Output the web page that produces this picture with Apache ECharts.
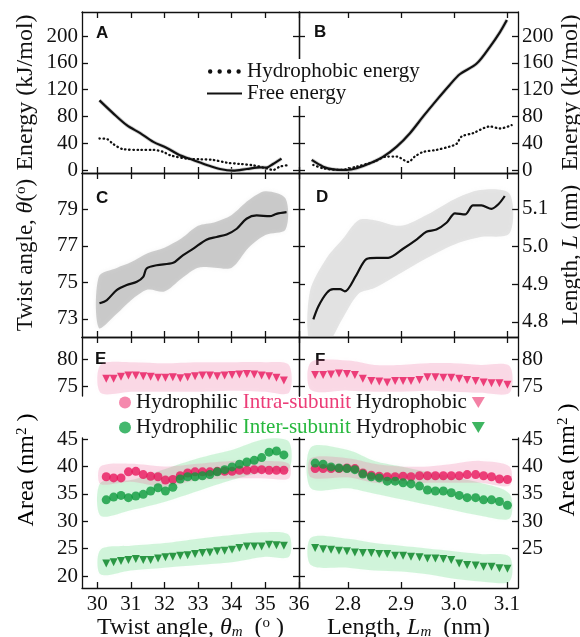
<!DOCTYPE html>
<html>
<head>
<meta charset="utf-8">
<script src="https://cdn.jsdelivr.net/npm/echarts@6/dist/echarts.min.js"></script>
<style>
html, body { margin: 0; padding: 0; background: #fff; }
#chart { width: 580px; height: 637px; }
</style>
</head>
<body>
<div id="chart"></div>
<script>
// ---------- Panel A: energy profiles vs twist angle ----------
const angFreeA = [30.07, 30.47, 30.88, 31.28, 31.67, 32.07, 32.46, 32.85, 33.26, 33.65, 34.04, 34.45, 34.84, 35.03, 35.23, 35.48];
const freeA    = [104, 85, 67, 55, 42, 33, 22, 15, 7.5, 1.5, -1, 1.5, 4, 3.5, 9, 17];
const angHydA  = [30.07, 30.3, 30.47, 30.78, 31.28, 31.67, 31.97, 32.17, 32.66, 33.06, 33.45, 33.85, 34.24, 34.64, 35.03, 35.23, 35.43, 35.63];
const hydA     = [47, 46, 39, 31, 30, 30, 27, 22, 17, 16, 15, 11, 9, 7, 2.5, 0, 5, 7];

// ---------- Panel B: energy profiles vs length ----------
const lenFreeB = [2.7315, 2.753, 2.772, 2.7975, 2.816, 2.8415, 2.8667, 2.892, 2.917, 2.942, 2.967, 2.992, 3.011, 3.043, 3.068, 3.087, 3.10];
const freeB    = [15, 5, 1, 0, 2.5, 10, 20, 35, 55, 80, 104, 127, 143, 159, 184, 206, 224];
const lenHydB  = [2.7345, 2.753, 2.785, 2.816, 2.848, 2.873, 2.892, 2.914, 2.926, 2.942, 2.967, 2.992, 3.005, 3.0145, 3.036, 3.068, 3.087, 3.109];
const hydB     = [7.5, 2.5, 0, 5, 12, 20, 20, 12, 20, 27, 30, 35, 39, 50, 55, 65, 62, 67];

// ---------- Panel C: twist angle theta vs theta_m ----------
const angC      = [30.07, 30.29, 30.58, 30.88, 31.18, 31.37, 31.47, 31.77, 32.26, 32.51, 32.86, 33.25, 33.55, 33.85, 34.15, 34.44, 34.74, 35.13, 35.33, 35.63];
const twistC    = [73.85, 74.03, 74.57, 74.85, 75.03, 75.3, 75.76, 75.94, 76.07, 76.43, 76.85, 77.34, 77.49, 77.63, 77.94, 78.49, 78.67, 78.63, 78.76, 78.85];
const angCloudC = [30.05, 30.6, 31.0, 31.5, 32.0, 32.5, 33.0, 33.5, 34.0, 34.5, 35.0, 35.6];
const loCloudC  = [72.5, 73.3, 74.0, 74.6, 74.5, 75.2, 75.8, 75.8, 75.8, 76.9, 77.6, 77.9];
const hiCloudC  = [75.3, 75.8, 76.1, 76.6, 76.9, 77.4, 78.1, 78.3, 78.7, 79.5, 80.0, 79.6];

// ---------- Panel D: length L vs L_m ----------
const lenD      = [2.7346, 2.744, 2.760, 2.772, 2.785, 2.794, 2.816, 2.835, 2.854, 2.876, 2.904, 2.930, 2.948, 2.967, 2.986, 3.002, 3.021, 3.036, 3.052, 3.071, 3.084, 3.096];
const lengthD   = [4.807, 4.841, 4.877, 4.887, 4.887, 4.881, 4.925, 4.967, 4.970, 4.970, 4.994, 5.019, 5.039, 5.045, 5.063, 5.088, 5.085, 5.109, 5.109, 5.100, 5.112, 5.134];
const lenCloudD = [2.728, 2.76, 2.79, 2.82, 2.85, 2.90, 2.95, 3.00, 3.05, 3.105];
const loCloudD  = [4.74, 4.74, 4.81, 4.875, 4.89, 4.93, 4.97, 5.005, 5.025, 5.035];
const hiCloudD  = [4.88, 4.97, 5.02, 5.07, 5.07, 5.055, 5.085, 5.125, 5.15, 5.14];

// ---------- Panels E/F: buried surface areas per bin ----------
const angBins = [30.27, 30.49, 30.71, 30.93, 31.15, 31.37, 31.59, 31.81, 32.03, 32.25, 32.47, 32.69, 32.91, 33.13, 33.35, 33.57, 33.79, 34.01, 34.23, 34.45, 34.67, 34.89, 35.11, 35.33, 35.55];
const lenBins = [2.738, 2.753, 2.768, 2.783, 2.798, 2.813, 2.828, 2.844, 2.859, 2.874, 2.889, 2.904, 2.919, 2.935, 2.950, 2.965, 2.980, 2.995, 3.010, 3.025, 3.041, 3.056, 3.071, 3.086, 3.101];

const eIntraPhob = [76.4, 76.4, 76.8, 77.0, 77.0, 76.9, 76.8, 76.6, 76.6, 76.7, 76.5, 76.7, 76.9, 77.0, 77.0, 76.9, 77.0, 77.1, 77.2, 77.3, 77.2, 77.0, 76.9, 76.6, 76.1];
const eIntraPhil = [38.1, 37.9, 37.9, 39.0, 39.1, 38.5, 38.2, 38.1, 37.5, 37.6, 38.3, 38.8, 39.0, 39.0, 39.0, 39.1, 39.1, 39.1, 39.3, 39.3, 39.4, 39.4, 39.3, 39.3, 39.3];
const eInterPhil = [33.9, 34.4, 34.7, 34.3, 34.6, 34.9, 35.5, 36.1, 35.5, 36.2, 37.7, 38.1, 38.1, 38.3, 38.5, 39.0, 39.4, 39.9, 40.4, 40.8, 41.1, 41.6, 42.6, 42.8, 42.1];
const eInterPhob = [22.3, 22.5, 22.75, 22.9, 23.1, 22.9, 22.9, 23.2, 23.4, 23.5, 23.7, 23.8, 24.0, 24.2, 24.3, 24.5, 24.6, 24.8, 25.1, 25.4, 25.4, 25.4, 25.7, 25.6, 25.5];

const fIntraPhob = [77.1, 77.1, 77.2, 77.4, 77.3, 77.1, 76.4, 76.0, 75.9, 75.7, 76.0, 76.0, 76.0, 76.2, 76.7, 76.7, 76.6, 76.6, 76.4, 76.2, 76.0, 75.7, 75.6, 75.6, 75.3];
const fIntraPhil = [39.6, 39.6, 39.6, 39.6, 39.7, 39.6, 38.8, 38.4, 38.2, 38.1, 38.1, 38.2, 38.1, 38.3, 38.3, 38.3, 38.3, 38.3, 38.3, 38.5, 38.5, 38.3, 38.1, 37.7, 37.6];
const fInterPhil = [40.6, 40.4, 39.9, 39.7, 39.6, 39.4, 38.6, 38.1, 37.9, 37.3, 37.3, 37.0, 36.8, 36.4, 35.7, 35.5, 35.5, 35.2, 34.7, 34.3, 34.3, 33.9, 33.9, 33.6, 32.9];
const fInterPhob = [25.1, 24.9, 24.8, 24.6, 24.5, 24.3, 24.2, 24.2, 24.0, 24.0, 23.7, 23.7, 23.5, 23.4, 23.2, 23.2, 23.1, 22.9, 22.3, 22.0, 21.9, 21.7, 21.7, 21.4, 21.3];

// spread of the raw samples behind each binned series
const angCloud      = [30.1, 31.0, 32.0, 33.0, 34.0, 35.0, 35.7];
const eLoIntraPhob  = [73.8, 74.0, 74.0, 74.0, 74.2, 74.0, 73.8];
const eHiIntraPhob  = [79.0, 79.5, 79.3, 79.5, 79.5, 79.5, 79.0];
const eLoIntraPhil  = [36.8, 37.2, 36.3, 37.5, 37.8, 37.8, 37.8];
const eHiIntraPhil  = [40.0, 40.5, 40.0, 40.5, 41.0, 41.0, 40.5];
const eLoInterPhil  = [31.0, 32.0, 33.5, 35.5, 37.5, 39.0, 39.5];
const eHiInterPhil  = [37.0, 37.5, 39.5, 41.5, 43.0, 45.0, 44.5];
const eLoInterPhob  = [20.3, 21.0, 21.5, 22.0, 22.5, 23.5, 23.5];
const eHiInterPhob  = [24.8, 25.5, 26.0, 26.8, 27.5, 28.0, 27.5];

const lenCloud      = [2.73, 2.8, 2.85, 2.9, 2.95, 3.0, 3.05, 3.105];
const fLoIntraPhob  = [74.3, 74.2, 74.0, 74.0, 74.2, 74.0, 73.8, 73.8];
const fHiIntraPhob  = [79.5, 79.8, 79.0, 79.0, 79.3, 79.3, 79.0, 78.8];
const fLoIntraPhil  = [38.0, 38.0, 37.0, 36.8, 37.0, 37.0, 37.0, 36.5];
const fHiIntraPhil  = [41.5, 41.5, 40.5, 40.0, 40.0, 40.5, 41.0, 40.0];
const fLoInterPhil  = [36.0, 36.0, 35.0, 34.0, 33.0, 32.0, 31.0, 30.5];
const fHiInterPhil  = [43.5, 43.0, 41.0, 40.0, 39.0, 38.0, 37.0, 35.0];
const fLoInterPhob  = [22.0, 21.5, 21.0, 20.8, 20.3, 19.5, 19.0, 19.0];
const fHiInterPhob  = [27.0, 26.8, 26.0, 25.5, 25.0, 24.5, 24.0, 23.5];

// ---------- tick values ----------
const angTicks    = [30, 31, 32, 33, 34, 35, 36];
const lenTicks    = [2.8, 2.9, 3.0, 3.1];
const energyTicks = [0, 40, 80, 120, 160, 200];
const twistTicks  = [73, 75, 77, 79];
const lengthTicks = [4.8, 4.9, 5.0, 5.1];
const upperTicks  = [75, 80];
const areaTicks   = [20, 25, 30, 35, 40, 45];
const areaTicksR  = [25, 30, 35, 40, 45];

// ---------- styling ----------
const SERIF = '"Liberation Serif", "DejaVu Serif", serif';
const SANS = '"Liberation Sans", "DejaVu Sans", sans-serif';
const INK = '#111';
const PINK = '#e8175d';
const GREEN_C = '#0c9a3c';
const GREEN_T = '#007f1e';

const rich = {
  n:   { fontFamily: SERIF, fontSize: 24, color: INK, lineHeight: 24 },
  m:   { fontFamily: SERIF, fontSize: 23, color: INK, lineHeight: 24 },
  i:   { fontFamily: SERIF, fontSize: 24, color: INK, fontStyle: 'italic', lineHeight: 24 },
  sup: { fontFamily: SERIF, fontSize: 15, color: INK, verticalAlign: 'top', lineHeight: 24 },
  sub: { fontFamily: SERIF, fontSize: 15, color: INK, fontStyle: 'italic', verticalAlign: 'bottom', lineHeight: 24 }
};

const grids = [
  { left: 82,  top: 12,  width: 217, height: 161 }, // A
  { left: 299, top: 12,  width: 219, height: 161 }, // B
  { left: 82,  top: 173, width: 217, height: 164 }, // C
  { left: 299, top: 173, width: 219, height: 164 }, // D
  { left: 82,  top: 337, width: 217, height: 59 },  // E upper
  { left: 299, top: 337, width: 219, height: 59 },  // F upper
  { left: 82,  top: 438, width: 217, height: 150 }, // E lower
  { left: 299, top: 438, width: 219, height: 150 }  // F lower
].map(g => Object.assign({ outerBoundsMode: 'none', containLabel: false }, g));

const lineStyle = { color: INK, width: 1.3 };
const oneDecimal = (v) => Number(v).toFixed(1);

function axis(extra, ticks, labels, margin, fmt) {
  const label = labels
    ? { show: true, customValues: labels, margin: margin, fontFamily: SERIF, fontSize: 21, color: INK }
    : { show: false };
  if (labels && fmt) label.formatter = fmt;
  return Object.assign({
    type: 'value',
    splitLine: { show: false },
    axisLine: { show: true, onZero: false, lineStyle },
    axisTick: { show: true, inside: true, length: 6, customValues: ticks, lineStyle },
    axisLabel: label
  }, extra);
}

// x axes: bottom (2g) and top (2g+1) for every grid
const xAxes = [];
grids.forEach((g, gi) => {
  const left = gi % 2 === 0;
  const range = left ? { min: 29.55, max: 36 } : { min: 2.7075, max: 3.121 };
  const ticks = left ? angTicks : lenTicks;
  const bottomShown = gi !== 4 && gi !== 5;
  const topShown = gi !== 6 && gi !== 7;
  const bottomExtra = Object.assign({ gridIndex: gi, position: 'bottom', show: bottomShown }, range);
  let bottomLabels = null, fmt = null;
  if (gi === 6) {
    bottomLabels = angTicks;
    Object.assign(bottomExtra, {
      name: '{n|Twist angle, }{i|θ}{sub|m}{n|  (}{sup|o}{n| )}',
      nameLocation: 'middle', nameGap: 22, nameTextStyle: { rich }
    });
  }
  if (gi === 7) {
    bottomLabels = lenTicks;
    fmt = oneDecimal;
    Object.assign(bottomExtra, {
      name: '{n|Length, }{i|L}{sub|m}{n|  (nm)}',
      nameLocation: 'middle', nameGap: 22, nameTextStyle: { rich }
    });
  }
  xAxes.push(axis(bottomExtra, ticks, bottomLabels, 6, fmt));
  xAxes.push(axis(Object.assign({ gridIndex: gi, position: 'top', show: topShown }, range), ticks, null, 6));
});

// y axes: left (2g) and right (2g+1) for every grid
const rows = [
  { min: -4.5, max: 236, ticks: energyTicks, labL: energyTicks, labR: energyTicks,
    nameL: '{n|Energy (kJ/mol)}', nameR: '{n|Energy (kJ/mol)}' },
  { minL: 72, maxL: 81, minR: 4.76, maxR: 5.195, ticksL: twistTicks, ticksR: lengthTicks,
    labL: twistTicks, labR: lengthTicks, fmtR: oneDecimal,
    nameL: '{m|Twist angle, }{i|θ}{m|(}{sup|o}{m|)}', nameR: '{m|Length, }{i|L}{m| (nm)}' },
  { min: 73.2, max: 84.2, ticks: upperTicks, labL: upperTicks, labR: upperTicks },
  { min: 17.81, max: 45.18, ticks: areaTicks, ticksRR: areaTicksR, labL: areaTicks, labR: areaTicksR }
];
const yAxes = [];
rows.forEach((r, ri) => {
  const gL = ri * 2, gR = ri * 2 + 1;
  const rangeL = { min: r.minL !== undefined ? r.minL : r.min, max: r.maxL !== undefined ? r.maxL : r.max };
  const rangeR = { min: r.minR !== undefined ? r.minR : r.min, max: r.maxR !== undefined ? r.maxR : r.max };
  const tL = r.ticksL || r.ticks, tR = r.ticksR || r.ticks;
  const nameOpts = (name, gap) => name ? { name, nameLocation: 'middle', nameRotate: 90, nameGap: gap, nameTextStyle: { rich } } : {};
  // left panel: labelled left axis + divider axis
  yAxes.push(axis(Object.assign({ gridIndex: gL, position: 'left' }, rangeL, nameOpts(r.nameL, 44)), tL, r.labL, 4));
  yAxes.push(axis(Object.assign({ gridIndex: gL, position: 'right' }, rangeL), tL, null, 4));
  // right panel: divider axis + labelled right axis
  yAxes.push(axis(Object.assign({ gridIndex: gR, position: 'left' }, rangeR), tR, null, 4));
  yAxes.push(axis(Object.assign({ gridIndex: gR, position: 'right' }, rangeR, nameOpts(r.nameR, 41)), r.ticksRR || tR, r.labR, 4, r.fmtR));
});

// ---------- series ----------
const pts = (xs, ys) => xs.map((x, i) => [x, ys[i]]);
const on = (g) => ({ xAxisIndex: 2 * g, yAxisIndex: 2 * g });

// shaded envelope of the raw samples, drawn as one polygon through the axis scales;
// a faint blurred shadow softens its edge
function cloud(g, xs, lo, hi, tint) {
  return Object.assign({
    type: 'custom', name: 'samples', silent: true, z: 1,
    data: xs.map((x, i) => [x, lo[i], hi[i]]),
    encode: { x: 0, y: [1, 2] },
    renderItem: (params, api) => {
      if (params.dataIndex !== 0) return null;
      const top = xs.map((x, i) => api.coord([x, hi[i]]));
      const bottom = xs.map((x, i) => api.coord([x, lo[i]])).reverse();
      const cs = params.coordSys;
      return {
        type: 'group',
        clipPath: { type: 'rect', shape: { x: cs.x, y: cs.y, width: cs.width, height: cs.height } },
        children: [{
          type: 'polygon',
          shape: { points: top.concat(bottom), smooth: 0.3 },
          style: { fill: tint.fill, shadowBlur: tint.blur, shadowColor: tint.edge }
        }]
      };
    }
  }, on(g));
}
function curve(g, name, xs, ys, dotted) {
  return Object.assign({
    type: 'line', name, data: pts(xs, ys), symbol: 'none', smooth: 0.3, z: 3,
    itemStyle: { color: INK },
    lineStyle: dotted
      ? { color: INK, width: 2.3, type: [0.5, 3.6], cap: 'round' }
      : { color: INK, width: 2.2 }
  }, on(g));
}
function halo(g, xs, ys) {
  return Object.assign({ type: 'line', name: 'free-halo', data: pts(xs, ys), symbol: 'none', smooth: 0.3, silent: true, z: 2,
    lineStyle: { color: '#cfcfcf', width: 3.8 } }, on(g));
}
function marks(g, name, xs, ys, shape, color, size) {
  return Object.assign({
    type: 'scatter', name, data: pts(xs, ys), symbol: shape, symbolSize: size,
    symbolRotate: shape === 'triangle' ? 180 : 0, itemStyle: { color }, z: 4
  }, on(g));
}

const CLOUD_C = { fill: 'rgba(150,150,150,0.45)', edge: 'rgba(150,150,150,0.25)', blur: 4 };
const CLOUD_D = { fill: 'rgba(165,165,165,0.28)', edge: 'rgba(165,165,165,0.20)', blur: 5 };
const CLOUD_P = { fill: 'rgba(240,110,160,0.24)', edge: 'rgba(240,110,160,0.14)', blur: 5 };
const CLOUD_G = { fill: 'rgba(60,210,100,0.22)', edge: 'rgba(60,210,100,0.13)', blur: 5 };

const series = [].concat(
  // A
  halo(0, angFreeA, freeA),
  curve(0, 'Hydrophobic energy', angHydA, hydA, true),
  curve(0, 'Free energy', angFreeA, freeA, false),
  // B
  halo(1, lenFreeB, freeB),
  curve(1, 'Hydrophobic energy', lenHydB, hydB, true),
  curve(1, 'Free energy', lenFreeB, freeB, false),
  // C
  cloud(2, angCloudC, loCloudC, hiCloudC, CLOUD_C),
  curve(2, 'theta', angC, twistC, false),
  // D
  cloud(3, lenCloudD, loCloudD, hiCloudD, CLOUD_D),
  curve(3, 'length', lenD, lengthD, false),
  // E upper
  cloud(4, angCloud, eLoIntraPhob, eHiIntraPhob, CLOUD_P),
  marks(4, 'Hydrophobic Intra-subunit', angBins, eIntraPhob, 'triangle', PINK, 8),
  // F upper
  cloud(5, lenCloud, fLoIntraPhob, fHiIntraPhob, CLOUD_P),
  marks(5, 'Hydrophobic Intra-subunit', lenBins, fIntraPhob, 'triangle', PINK, 8),
  // E lower
  cloud(6, angCloud, eLoInterPhil, eHiInterPhil, CLOUD_G),
  cloud(6, angCloud, eLoInterPhob, eHiInterPhob, CLOUD_G),
  cloud(6, angCloud, eLoIntraPhil, eHiIntraPhil, CLOUD_P),
  marks(6, 'Hydrophilic Intra-subunit', angBins, eIntraPhil, 'circle', PINK, 9),
  marks(6, 'Hydrophilic Inter-subunit', angBins, eInterPhil, 'circle', GREEN_C, 9),
  marks(6, 'Hydrophobic Inter-subunit', angBins, eInterPhob, 'triangle', GREEN_T, 8),
  // F lower
  cloud(7, lenCloud, fLoInterPhil, fHiInterPhil, CLOUD_G),
  cloud(7, lenCloud, fLoInterPhob, fHiInterPhob, CLOUD_G),
  cloud(7, lenCloud, fLoIntraPhil, fHiIntraPhil, CLOUD_P),
  marks(7, 'Hydrophilic Intra-subunit', lenBins, fIntraPhil, 'circle', PINK, 9),
  marks(7, 'Hydrophilic Inter-subunit', lenBins, fInterPhil, 'circle', GREEN_C, 9),
  marks(7, 'Hydrophobic Inter-subunit', lenBins, fInterPhob, 'triangle', GREEN_T, 8)
);

const legendText = { fontFamily: SERIF, fontSize: 21, color: INK,
  rich: { p: { fontFamily: SERIF, fontSize: 21, color: '#ec3d78' }, g: { fontFamily: SERIF, fontSize: 21, color: '#27b83e' } } };
const DOWN_TRIANGLE = 'path://M0,0 L12,0 L6,10 Z';
const DOT_ROW = 'path://M1,6a2.2,2.2 0 1,0 4.4,0a2.2,2.2 0 1,0 -4.4,0M10.5,6a2.2,2.2 0 1,0 4.4,0a2.2,2.2 0 1,0 -4.4,0' +
  'M20,6a2.2,2.2 0 1,0 4.4,0a2.2,2.2 0 1,0 -4.4,0M29.5,6a2.2,2.2 0 1,0 4.4,0a2.2,2.2 0 1,0 -4.4,0M0,0.5h0.1M35,11.5h0.1';

const legends = [
  {
    data: [
      { name: 'Hydrophobic energy', icon: DOT_ROW, itemStyle: { color: INK } },
      { name: 'Free energy', itemStyle: { opacity: 0 } }
    ],
    orient: 'vertical', left: 202, top: 59, itemWidth: 35, itemHeight: 12, itemGap: 1,
    backgroundColor: '#fff', padding: [2, 8, 2, 4], textStyle: { fontFamily: SERIF, fontSize: 21, color: INK }
  },
  {
    data: [
      { name: 'Hydrophilic Intra-subunit', icon: 'circle', itemStyle: { color: '#f26c98' } },
      { name: 'Hydrophilic Inter-subunit', icon: 'circle', itemStyle: { color: '#15a64a' } }
    ],
    orient: 'vertical', left: 119, top: 392, itemWidth: 12, itemHeight: 12, itemGap: 4, padding: 0,
    formatter: (n) => n.indexOf('Intra') >= 0 ? 'Hydrophilic {p|Intra-subunit}' : 'Hydrophilic {g|Inter-subunit}',
    textStyle: legendText
  },
  {
    data: [
      { name: 'Hydrophobic Intra-subunit', icon: DOWN_TRIANGLE, itemStyle: { color: '#f0628f' } },
      { name: 'Hydrophobic Inter-subunit', icon: DOWN_TRIANGLE, itemStyle: { color: '#0ea23a' } }
    ],
    orient: 'vertical', left: 356, top: 392, align: 'right', itemWidth: 13, itemHeight: 11, itemGap: 4, padding: 0,
    formatter: () => 'Hydrophobic',
    textStyle: legendText
  }
];

const letter = (t, x, y) => ({ type: 'text', x, y, silent: true,
  style: { text: t, fontFamily: SANS, fontWeight: 'bold', fontSize: 17, fill: INK, verticalAlign: 'top' } });
const areaName = (x, y) => ({ type: 'text', x, y, rotation: Math.PI / 2, silent: true,
  style: { text: '{n|Area (nm}{sup|2}{n| )}', rich, align: 'center', verticalAlign: 'middle' } });

const chart = echarts.init(document.getElementById('chart'), null, { renderer: 'canvas' });
chart.setOption({
  animation: false,
  backgroundColor: '#fff',
  grid: grids,
  xAxis: xAxes,
  yAxis: yAxes,
  legend: legends,
  series,
  graphic: [
    letter('A', 96, 25), letter('B', 314, 24),
    letter('C', 96, 190), letter('D', 316, 189),
    letter('E', 95, 351), letter('F', 315, 352),
    areaName(27, 470), areaName(568, 460)
  ]
});
</script>
</body>
</html>
